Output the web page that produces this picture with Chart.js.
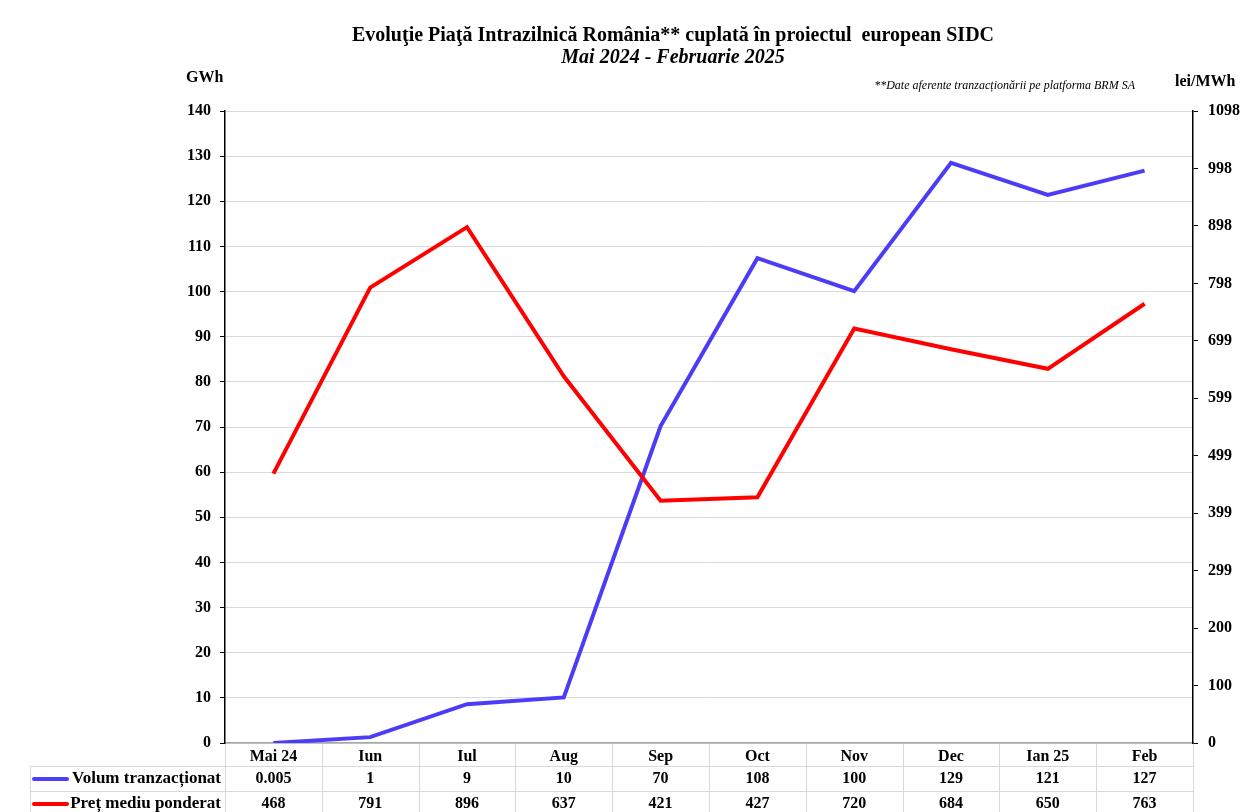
<!DOCTYPE html>
<html>
<head>
<meta charset="utf-8">
<script src="https://cdn.jsdelivr.net/npm/chart.js@4"></script>
<style>
  body { margin: 0; background: #fff; }
  canvas { display: block; }
</style>
</head>
<body>
<canvas id="sidcChart" width="1242" height="812"></canvas>
<script>
const luni = ['Mai 24', 'Iun', 'Iul', 'Aug', 'Sep', 'Oct', 'Nov', 'Dec', 'Ian 25', 'Feb'];
const volum = [0.005, 1.3, 8.6, 10.1, 70.2, 107.4, 100.1, 128.5, 121.4, 126.8];
const volumText = ['0.005', '1', '9', '10', '70', '108', '100', '129', '121', '127'];
const pret = [468, 791, 896, 637, 421, 427, 720, 684, 650, 763];
const pretText = ['468', '791', '896', '637', '421', '427', '720', '684', '650', '763'];
const pretTicks = [0, 99.8, 199.6, 299.4, 399.2, 499, 598.8, 698.6, 798.4, 898.2, 998, 1097.8];

const FONT = "'Liberation Serif', 'Times New Roman', serif";
const BLUE = '#4d3cf7';
const RED = '#ff0000';

const extras = {
    id: 'extras',
    afterDraw(chart) {
        const ctx = chart.ctx;
        const area = chart.chartArea;
        const x = chart.scales.x;
        ctx.save();
        ctx.fillStyle = '#000';
        ctx.textAlign = 'center';
        ctx.textBaseline = 'middle';

        // titles
        ctx.font = 'bold 20px ' + FONT;
        ctx.fillText('Evoluţie Piaţă Intrazilnică România** cuplată în proiectul  european SIDC', 673, 36);
        ctx.font = 'italic bold 20px ' + FONT;
        ctx.fillText('Mai 2024 - Februarie 2025', 673, 58);

        ctx.font = 'italic 12px ' + FONT;
        ctx.textAlign = 'right';
        ctx.fillText('**Date aferente tranzacționării pe platforma BRM SA', 1135, 86);

        ctx.font = 'bold 16px ' + FONT;
        ctx.textAlign = 'left';
        ctx.fillText('GWh', 186, 78);
        ctx.fillText('lei/MWh', 1175, 82);

        // data table
        const half = (x.getPixelForValue(1) - x.getPixelForValue(0)) / 2;
        const rows = [766, 791];
        ctx.strokeStyle = '#d9d9d9';
        ctx.lineWidth = 1;
        ctx.beginPath();
        rows.forEach(r => { ctx.moveTo(30, r + 0.5); ctx.lineTo(area.right, r + 0.5); });
        ctx.moveTo(30.5, rows[0]); ctx.lineTo(30.5, 812);
        for (let i = 0; i <= luni.length; i++) {
            const px = Math.round(x.getPixelForValue(i) - half) + 0.5;
            ctx.moveTo(px, area.bottom + 1); ctx.lineTo(px, 812);
        }
        ctx.stroke();

        const series = [
            { name: 'Volum tranzacționat', color: BLUE, text: volumText },
            { name: 'Preț mediu ponderat', color: RED, text: pretText }
        ];
        series.forEach((s, k) => {
            const cy = rows[k] + 13;
            ctx.strokeStyle = s.color;
            ctx.lineWidth = 4;
            ctx.lineCap = 'round';
            ctx.beginPath();
            ctx.moveTo(34, cy); ctx.lineTo(67, cy);
            ctx.stroke();
            ctx.font = 'bold 17px ' + FONT;
            ctx.textAlign = 'right';
            ctx.fillText(s.name, 221, cy);
            ctx.font = 'bold 16px ' + FONT;
            ctx.textAlign = 'center';
            s.text.forEach((t, i) => ctx.fillText(t, x.getPixelForValue(i), cy));
        });
        ctx.restore();
    }
};

new Chart(document.getElementById('sidcChart'), {
    type: 'line',
    data: {
        labels: luni,
        datasets: [{
            label: 'Volum tranzacționat',
            data: volum,
            borderColor: BLUE,
            borderWidth: 4,
            pointRadius: 0,
            tension: 0,
            order: 1,
            yAxisID: 'y'
        }, {
            label: 'Preț mediu ponderat',
            data: pret,
            borderColor: RED,
            borderWidth: 4,
            pointRadius: 0,
            tension: 0,
            order: 0,
            yAxisID: 'y2'
        }]
    },
    options: {
        responsive: false,
        animation: false,
        layout: { padding: { top: 111, left: 0, right: 0, bottom: 0 } },
        plugins: {
            legend: { display: false },
            tooltip: { enabled: false }
        },
        scales: {
            x: {
                offset: true,
                grid: { display: false },
                border: { color: '#a6a6a6', width: 1.5 },
                ticks: { color: '#000', padding: -4, font: { family: FONT, size: 16, weight: 'bold' } },
                afterFit(scale) { scale.height = 69; }
            },
            y: {
                position: 'left',
                min: 0,
                max: 140,
                ticks: { stepSize: 10, color: '#000', padding: 9, font: { family: FONT, size: 16, weight: 'bold' } },
                grid: { color: '#d9d9d9', tickColor: '#000', tickLength: 5 },
                border: { color: '#000', width: 1.5 },
                afterFit(scale) { scale.width = 225; }
            },
            y2: {
                position: 'right',
                min: 0,
                max: 1097.8,
                afterBuildTicks(scale) { scale.ticks = pretTicks.map(v => ({ value: v })); },
                ticks: {
                    color: '#000',
                    padding: 10,
                    font: { family: FONT, size: 16, weight: 'bold' },
                    callback: v => Math.round(v)
                },
                grid: { drawOnChartArea: false, tickColor: '#000', tickLength: 5 },
                border: { color: '#000', width: 1.5 },
                afterFit(scale) { scale.width = 49; }
            }
        }
    },
    plugins: [extras]
});
</script>
</body>
</html>
